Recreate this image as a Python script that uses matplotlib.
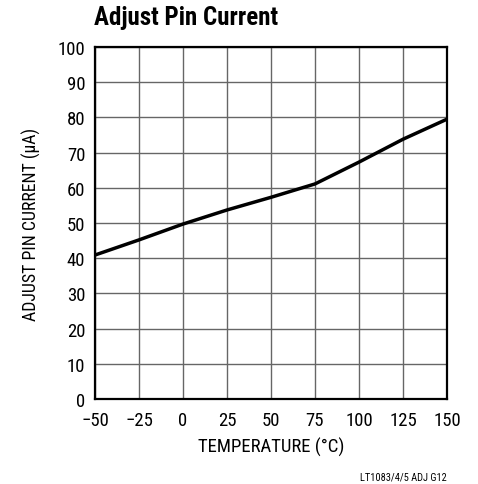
import numpy as np
import matplotlib
matplotlib.use("Agg")
from matplotlib import pyplot as plt

# adjust pin current vs temperature
TEMP = [-50, -25, 0, 25, 50, 75, 100, 125, 150]
CURRENT = [40.9, 45.2, 49.7, 53.7, 57.3, 61.1, 67.3, 73.8, 79.5]

X_TICKS = [-50, -25, 0, 25, 50, 75, 100, 125, 150]
X_TICKLABELS = ["\u221250", "\u221225", "0", "25", "50", "75", "100", "125", "150"]
Y_TICKS = list(range(0, 101, 10))

TITLE = "Adjust Pin Current"
X_LABEL = "TEMPERATURE (\u00b0C)"
Y_LABEL = "ADJUST PIN CURRENT (\u03bcA)"
FOOTER = "LT1083/4/5 ADJ G12"

plt.rcParams['font.family'] = ['Roboto Condensed', 'Archivo Narrow', 'Liberation Sans Narrow', 'DejaVu Sans']

fig = plt.figure(figsize=(4.78, 4.85), dpi=100)
ax = fig.add_axes([95/478, 1-400/485, 352/478, 352/485])

ax.plot(TEMP, CURRENT, color='black', lw=2.5, solid_capstyle='butt', zorder=3)

ax.set_xlim(-50, 150)
ax.set_ylim(0, 100)
ax.set_xticks(X_TICKS)
ax.set_xticklabels(X_TICKLABELS)
ax.set_yticks(Y_TICKS)
ax.tick_params(length=0, labelsize=13.5)
ax.tick_params(axis='x', pad=8.5)
ax.tick_params(axis='y', pad=7)
ax.grid(True, color='#666666', lw=1.0)
for s in ax.spines.values():
    s.set_linewidth(1.6)
    s.set_color('black')
    s.set_zorder(4)

ax.set_xlabel(X_LABEL, fontsize=13.5, labelpad=6)
ax.set_ylabel(Y_LABEL, fontsize=12.8, labelpad=12)

fig.text(94/478, 1-25/485, TITLE, fontsize=18, fontweight='bold', ha='left', va='baseline')
fig.text(447/478, 1-478/485, FOOTER, fontsize=7.5, ha='right', va='center')

fig.savefig("out.png", dpi=100)
